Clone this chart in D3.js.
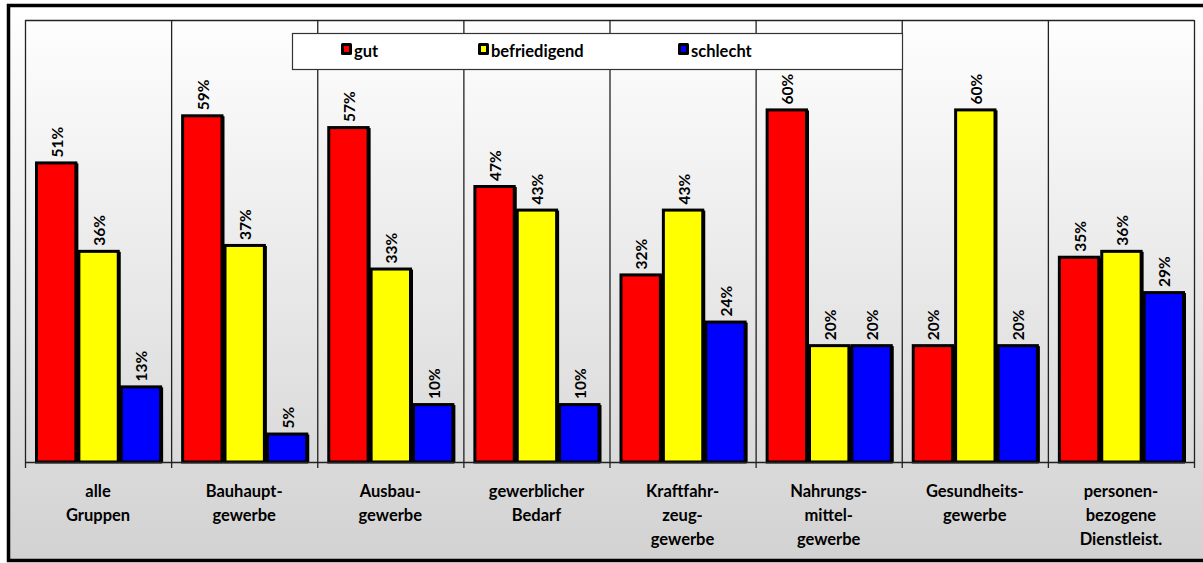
<!DOCTYPE html>
<html><head><meta charset="utf-8">
<script src="https://cdn.jsdelivr.net/npm/d3@7"></script>
<style>html,body{margin:0;padding:0;background:#fff;}svg{display:block;}</style>
</head><body>
<svg id="chart" width="1203" height="563"></svg>
<script>
const categories = [
  ["alle","Gruppen"],
  ["Bauhaupt-","gewerbe"],
  ["Ausbau-","gewerbe"],
  ["gewerblicher","Bedarf"],
  ["Kraftfahr-","zeug-","gewerbe"],
  ["Nahrungs-","mittel-","gewerbe"],
  ["Gesundheits-","gewerbe"],
  ["personen-","bezogene","Dienstleist."]
];
const seriesNames = ["gut","befriedigend","schlecht"];
const seriesColors = ["#ff0000","#ffff00","#0000ff"];
const gut = [51,59,57,47,32,60,20,35];
const befriedigend = [36,37,33,43,43,20,60,36];
const schlecht = [13,5,10,10,24,20,20,29];
const seriesValues = [gut, befriedigend, schlecht];

const svg = d3.select("#chart");
const font = "Lato, 'Open Sans', sans-serif";

const defs = svg.append("defs");
const grad = defs.append("linearGradient").attr("id","bg").attr("x1",0).attr("y1",0).attr("x2",0).attr("y2",1);
grad.append("stop").attr("offset","0%").attr("stop-color","#ffffff");
grad.append("stop").attr("offset","100%").attr("stop-color","#d2d2d2");

// outer frame
svg.append("rect").attr("x",8.5).attr("y",5.5).attr("width",1210).attr("height",555)
  .attr("fill","url(#bg)").attr("stroke","#000").attr("stroke-width",3.5);

const plot = {left:25, right:1194, top:20, bottom:462};
const catIdx = d3.range(categories.length);
const x0 = d3.scaleBand().domain(catIdx).range([plot.left, plot.right]).paddingInner(0).paddingOuter(0);
const x1 = d3.scaleBand().domain(d3.range(seriesNames.length)).range([10, x0.bandwidth()-9]).padding(0);
const y = d3.scaleLinear().domain([0,75]).range([plot.bottom, plot.top]);

// plot frame lines
const grid = svg.append("g").attr("stroke","#222").attr("stroke-width",1.3);
grid.append("line").attr("x1",plot.left).attr("x2",plot.right).attr("y1",plot.top+0.5).attr("y2",plot.top+0.5);
catIdx.concat([categories.length]).forEach(i=>{
  const xx = (i<categories.length ? x0(i) : plot.right) + 0.5;
  grid.append("line").attr("x1",xx).attr("x2",xx).attr("y1",plot.top).attr("y2",plot.bottom+6);
});

// bars
const bars = svg.append("g");
catIdx.forEach(ci=>{
  seriesValues.forEach((vals,si)=>{
    const v = vals[ci];
    const bx = x0(ci)+x1(si);
    const bw = x1.bandwidth();
    const by = y(v);
    const bh = plot.bottom - by;
    bars.append("rect").attr("x",bx+3).attr("y",by+2).attr("width",bw-2).attr("height",bh-2).attr("fill","#000");
    bars.append("rect").attr("x",bx+1.5).attr("y",by+1.5).attr("width",bw-3).attr("height",bh-1.5)
      .attr("fill",seriesColors[si]).attr("stroke","#000").attr("stroke-width",3);
    const cx = bx + bw/2 + 1;
    bars.append("text").attr("transform",`translate(${cx+5.5},${by-4}) rotate(-90)`)
      .attr("font-family",font).attr("font-weight","bold").attr("font-size",15.5)
      .attr("fill","#000").text(v+"%");
  });
});

// x axis
const axis = svg.append("g").attr("stroke","#222").attr("stroke-width",1.3);
axis.append("line").attr("x1",plot.left).attr("x2",plot.right).attr("y1",plot.bottom+0.5).attr("y2",plot.bottom+0.5);

// category labels
catIdx.forEach(ci=>{
  const t = svg.append("text").attr("x",x0(ci)+x0.bandwidth()/2).attr("y",497)
    .attr("text-anchor","middle").attr("font-family",font).attr("font-weight","bold").attr("font-size",16.5).attr("fill","#000");
  categories[ci].forEach((line,li)=>{
    t.append("tspan").attr("x",x0(ci)+x0.bandwidth()/2).attr("y",497+li*24).text(line);
  });
});

// legend
const lg = svg.append("g");
lg.append("rect").attr("x",292.5).attr("y",33.5).attr("width",610).attr("height",36).attr("fill","#fff").attr("stroke","#333").attr("stroke-width",1.2);
const legendX = [341, 478, 678];
seriesNames.forEach((n,i)=>{
  lg.append("rect").attr("x",legendX[i]).attr("y",43).attr("width",11).attr("height",12).attr("rx",1.5).attr("fill","#000");
  lg.append("rect").attr("x",legendX[i]+3).attr("y",46).attr("width",5).attr("height",6).attr("fill",seriesColors[i]);
  lg.append("text").attr("x",legendX[i]+13).attr("y",57).attr("font-family",font).attr("font-weight","bold").attr("font-size",16.5).attr("fill","#000").text(n);
});
</script>
</body></html>
